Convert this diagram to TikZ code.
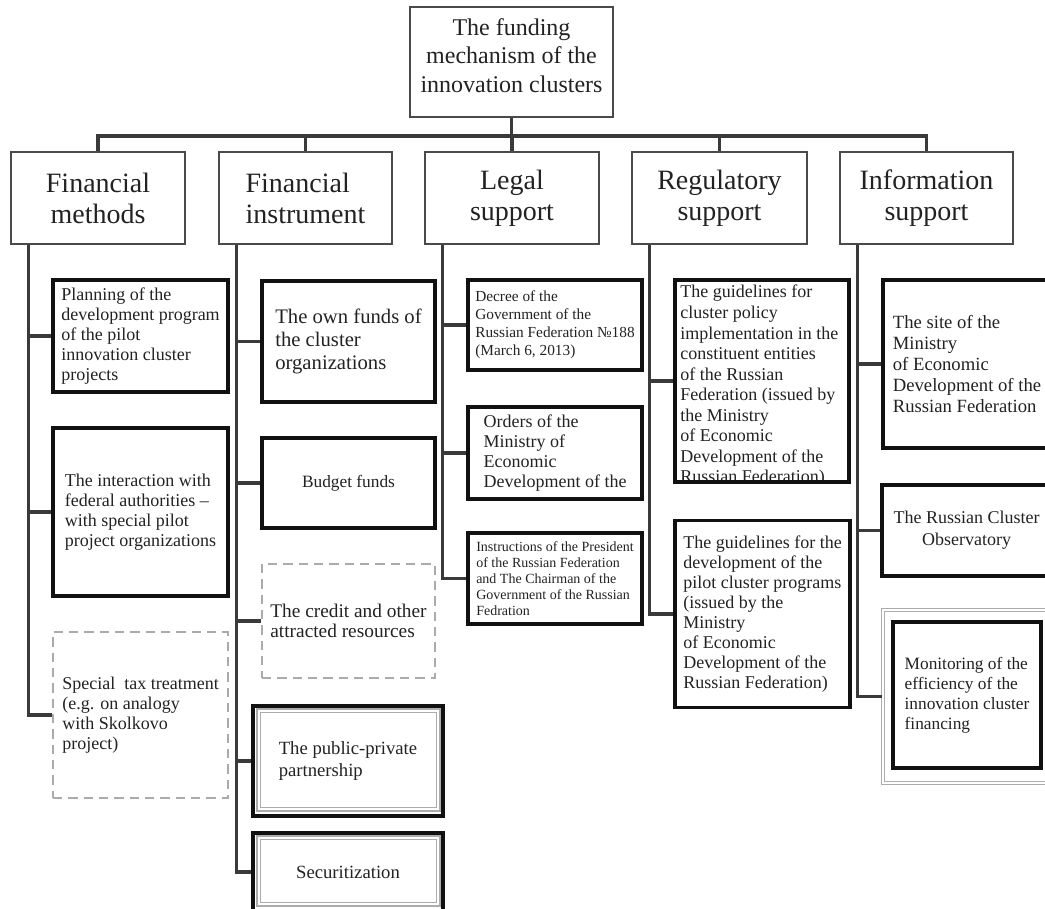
\documentclass[tikz,border=0pt]{standalone}
\usepackage{fontspec}
\setmainfont{Liberation Serif}
\usetikzlibrary{calc}
\definecolor{ink}{HTML}{111111}
\definecolor{frame}{HTML}{4A4A4A}
\definecolor{wire}{HTML}{3A3A3A}
\definecolor{soft}{HTML}{ABABAB}
\definecolor{txt}{HTML}{222222}
\tikzset{
  sz/.style 2 args={minimum width=#1*0.75pt, minimum height=#2*0.75pt},
  topbox/.style={draw=frame, line width=1.5pt, align=center, inner sep=0pt, text=txt},
  headbox/.style={draw=frame, line width=1.5pt, align=center, inner sep=0pt, text=txt,
    font=\fontsize{21}{23.3}\selectfont},
  item/.style={draw=ink, line width=2.5pt, align=left, inner sep=0pt, text=txt},
  dashitem/.style={draw=soft, line width=2.2pt, dash pattern=on 7pt off 4.5pt,
    align=left, inner sep=0pt, text=txt},
  heavy/.style={draw=ink, line width=3.4pt, align=left, inner sep=0pt, text=txt},
  rim/.style={draw=gray!65, double=white, line width=1pt, double distance=1.5pt},
  link/.style={draw=wire, line width=2.3pt},
}

\begin{document}
\begin{tikzpicture}[x=0.75pt, y=-0.75pt]
  \path[use as bounding box, clip] (0,0) rectangle (1045,909);

  % root and the five branches
  \node[topbox, sz={203}{110}, text depth=10pt, font=\fontsize{18}{21.4}\selectfont] (top) at (511.5,62)
    {The funding\\mechanism of the\\innovation clusters};

  \node[headbox, sz={174}{92}] (fm) at (98,198) {Financial\\methods};
  \node[headbox, sz={173}{92}, align=left] (fi) at (305.5,198) {Financial\\instrument};
  \node[headbox, sz={174}{92}] (ls) at (512,198) {Legal\\support};
  \node[headbox, sz={175}{92}] (rs) at (719.5,198) {Regulatory\\support};
  \node[headbox, sz={173}{92}] (is) at (926.5,198) {Information\\support};

  \foreach \h in {fm,fi,ls,rs,is}
    \draw[link] (top.south) -- ++(0,18) -| (\h.north);

  % financial methods
  \node[item, sz={175}{112}, font=\fontsize{13.5}{15}\selectfont] (plan) at (140.5,336)
    {Planning of the\\development program\\of the pilot\\innovation cluster\\projects};
  \node[item, sz={175}{168}, font=\fontsize{13.5}{15}\selectfont] (inter) at (140.5,512)
    {The interaction with\\federal authorities --\\with special pilot\\project organizations};
  \node[dashitem, sz={175}{166}, font=\fontsize{13.5}{15}\selectfont] (tax) at (140.5,715)
    {Special~ tax treatment\\(e.g. on analogy\\with Skolkovo\\project)};

  % financial instrument
  \node[item, sz={173}{121}, font=\fontsize{15.5}{17.3}\selectfont] (own) at (348.5,341.5)
    {The own funds of\\the cluster\\organizations};
  \node[item, sz={173}{90}, font=\fontsize{13}{15}\selectfont] (budget) at (348.5,483)
    {Budget funds};
  \node[dashitem, sz={173}{114}, font=\fontsize{14.5}{15.3}\selectfont] (credit) at (348.5,621)
    {The credit and other\\attracted resources};
  \node[heavy, sz={190}{110}, font=\fontsize{14}{15.8}\selectfont] (ppp) at (348,761)
    {The public-private\\partnership};
  \draw[rim] ([shift={(8,7)}]ppp.north west) rectangle ([shift={(-7,-9)}]ppp.south east);
  \node[heavy, sz={190}{78}, font=\fontsize{14}{15.8}\selectfont] (secur) at (348,872)
    {Securitization};
  \draw[rim] ([shift={(8,7)}]secur.north west) rectangle ([shift={(-7,-9)}]secur.south east);

  % legal support
  \node[item, sz={174}{90}, font=\fontsize{11.5}{13.5}\selectfont] (decree) at (555,325)
    {Decree of the\\Government of the\\Russian Federation №188\\(March 6, 2013)};
  \node[item, sz={174}{92}, font=\fontsize{13.5}{15}\selectfont] (orders) at (555,453)
    {Orders of the\\Ministry of\\Economic\\Development of the};
  \node[item, sz={174}{91}, font=\fontsize{10.5}{12}\selectfont] (instr) at (555,578.5)
    {Instructions of the President\\of the Russian Federation\\and The Chairman of the\\Government of the Russian\\Fedration};

  % regulatory support
  \begin{scope}
    \clip (675,280) rectangle (849,482);
    \node[anchor=north west, align=left, inner sep=0pt, text=txt,
      font=\fontsize{13.5}{15.4}\selectfont] (g1txt) at (680,285)
      {The guidelines for\\cluster policy\\implementation in the\\constituent entities\\of the Russian\\Federation (issued by\\the Ministry\\of Economic\\Development of the\\Russian Federation)};
  \end{scope}
  \node[item, sz={174}{202}] (g1) at (762,381) {};
  \node[item, sz={175}{187}, font=\fontsize{13.5}{15}\selectfont] (g2) at (762.5,614)
    {The guidelines for the\\development of the\\pilot cluster programs\\(issued by the\\Ministry\\of Economic\\Development of the\\Russian Federation)};

  % information support
  \node[item, sz={168}{168}, font=\fontsize{14}{15.8}\selectfont] (site) at (967,364)
    {The site of the\\Ministry\\of Economic\\Development of the\\Russian Federation};
  \node[item, sz={169}{91}, align=center, font=\fontsize{13.5}{16.5}\selectfont] (obs) at (966.5,530.5)
    {The Russian Cluster\\Observatory};
  \node[rim, sz={168}{173}] (mon) at (967,696.5) {};
  \node[heavy, sz={148}{146}, font=\fontsize{13}{15}\selectfont] (monin) at (967,695)
    {Monitoring of the\\efficiency of the\\innovation cluster\\financing};

  % trunks down each branch
  \foreach \h/\c in {fm/plan, fm/inter, fm/tax, fi/own, fi/budget, fi/credit, fi/ppp, fi/secur,
                     ls/decree, ls/orders, ls/instr, rs/g1, rs/g2, is/site, is/obs, is/mon}
    \draw[link] ([xshift=13.9pt]\h.south west) |- (\c.west);
\end{tikzpicture}
\end{document}
